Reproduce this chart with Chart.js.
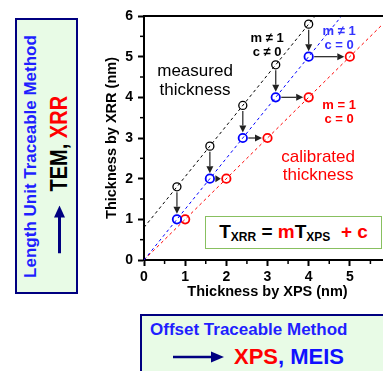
<!DOCTYPE html>
<html>
<head>
<meta charset="utf-8">
<script src="https://cdn.jsdelivr.net/npm/chart.js@4.4.0/dist/chart.umd.min.js"></script>
<style>
  html, body { margin: 0; padding: 0; background: #fff; overflow: hidden; }
  #wrap { position: relative; width: 383px; height: 371px; overflow: hidden;
          font-family: "Liberation Sans", Arial, sans-serif; }
  #chart { position: absolute; left: 0; top: 0; }
  .box { position: absolute; box-sizing: border-box; border: 2px solid #000080; background: #e8fbe6; }
  #leftBox { left: 15px; top: 18px; width: 63px; height: 276px; }
  #leftBox .rot { position: absolute; width: 272px; height: 59px; left: -106.5px; top: 106.5px;
                  transform: rotate(-90deg); }
  #bottomBox { left: 140px; top: 314px; width: 260px; height: 80px; }
  .l1 { position: absolute; font-weight: bold; font-size: 17px; line-height: 20px; color: #1f1fff; white-space: nowrap; }
  .l2 { position: absolute; font-weight: bold; line-height: 26px; white-space: nowrap; color: #000; }
  .red { color: #ff0000; }
  .blue { color: #1010ff; }
  svg { position: absolute; }
  #eq { position: absolute; left: 205px; top: 216px; width: 177px; height: 33px; box-sizing: border-box;
        border: 1.5px solid #88c060; background: #fff; font-weight: bold; font-size: 19px;
        text-align: center; line-height: 30px; color: #000; white-space: nowrap; }
  #eq sub { font-size: 12px; vertical-align: -3px; line-height: 0; }
</style>
</head>
<body>
<div id="wrap">
  <canvas id="chart" width="400" height="371"></canvas>

  <div id="eq">T<sub>XRR</sub> = <span class="red">m</span>T<sub>XPS</sub>&nbsp; <span class="red">+ c</span></div>

  <div class="box" id="leftBox">
    <div class="rot">
      <div class="l1" style="left:0; top:3px; width:272px; text-align:center;">Length Unit Traceable Method</div>
      <svg style="left:39px; top:36px;" width="48" height="12">
        <line x1="0" y1="6" x2="37" y2="6" stroke="#000080" stroke-width="3"/>
        <polygon points="36,0.5 48,6 36,11.5" fill="#000080"/>
      </svg>
      <div class="l2" style="left:101px; top:28px; font-size:23px; transform: scaleX(0.87); transform-origin: 0 50%;">TEM, <span class="red">XRR</span></div>
    </div>
  </div>

  <div class="box" id="bottomBox">
    <div class="l1" style="left:8px; top:4px;">Offset Traceable Method</div>
    <svg style="left:31px; top:35px;" width="51" height="12">
      <line x1="0" y1="6" x2="39" y2="6" stroke="#000080" stroke-width="2.5"/>
      <polygon points="38,0.5 51,6 38,11.5" fill="#000080"/>
    </svg>
    <div class="l2" style="left:92px; top:28px; font-size:22px;"><span class="red">XPS</span><span class="blue">, MEIS</span></div>
  </div>
</div>

<script>
const FONT = '"Liberation Sans", Arial, sans-serif';

// values
const xpsCalibrated = [1, 2, 3, 4, 5];            // red circles (m = 1, c = 0)
const xrrCalibrated = [1, 2, 3, 4, 5];
const xpsMeasured = [0.8, 1.6, 2.4, 3.2, 4.0];    // x of blue and black circles
const xrrScaled = [1, 2, 3, 4, 5];                // blue circles (m != 1, c = 0)
const xrrMeasured = [1.8, 2.8, 3.8, 4.8, 5.8];    // black circles (m != 1, c != 0)

// dashed fit lines, end points
const measuredFitX = [0, 4.16];
const measuredFitY = [0.8, 6];
const scaledFitX = [0, 4.8];
const scaledFitY = [0, 6];
const calibratedFitX = [0, 6];
const calibratedFitY = [0, 6];

const xTickLabels = [0, 1, 2, 3, 4, 5];
const yTickLabels = [0, 1, 2, 3, 4, 5, 6];

const toPoints = (xs, ys) => xs.map((v, i) => ({ x: v, y: ys[i] }));

// text notes inside the plot (anchor = centre x, baseline of first line, in data units)
const notes = [
  { x: 1.24, y: 4.52, lines: ['measured', 'thickness'], color: '#000', weight: 'normal', size: 17, gap: 19 },
  { x: 2.99, y: 5.36, lines: ['m \u2260 1', 'c \u2260 0'], color: '#000', weight: 'bold', size: 13, gap: 14 },
  { x: 4.74, y: 5.53, lines: ['m \u2260 1', 'c = 0'], color: '#3333ff', weight: 'bold', size: 13, gap: 14 },
  { x: 4.74, y: 3.71, lines: ['m = 1', 'c = 0'], color: '#ff0000', weight: 'bold', size: 13, gap: 14 },
  { x: 4.23, y: 2.41, lines: ['calibrated', 'thickness'], color: '#ff0000', weight: 'normal', size: 17, gap: 18 }
];

function drawArrow(ctx, x1, y1, x2, y2) {
  const len = Math.hypot(x2 - x1, y2 - y1);
  if (len < 4) return;
  const c = (x2 - x1) / len, s = (y2 - y1) / len;
  const head = Math.min(7, len), hw = 3.5;
  const bx = x2 - head * c, by = y2 - head * s;
  if (len > head) {
    ctx.beginPath(); ctx.moveTo(x1, y1); ctx.lineTo(bx, by); ctx.stroke();
  }
  ctx.beginPath();
  ctx.moveTo(x2, y2);
  ctx.lineTo(bx - hw * s, by + hw * c);
  ctx.lineTo(bx + hw * s, by - hw * c);
  ctx.closePath();
  ctx.fill();
}

const extras = {
  id: 'extras',
  afterDatasetsDraw(chart) {
    const { ctx, chartArea: a, scales: { x, y } } = chart;
    ctx.save();
    // top frame line
    ctx.strokeStyle = '#000';
    ctx.lineWidth = 2;
    ctx.beginPath(); ctx.moveTo(a.left - 1, a.top); ctx.lineTo(a.right, a.top); ctx.stroke();
    // minor ticks
    ctx.lineWidth = 1.5;
    for (let v = 0.5; v < 6; v += 1) {
      const px = x.getPixelForValue(v), py = y.getPixelForValue(v);
      ctx.beginPath(); ctx.moveTo(px, a.bottom); ctx.lineTo(px, a.bottom + 4); ctx.stroke();
      ctx.beginPath(); ctx.moveTo(a.left - 4, py); ctx.lineTo(a.left, py); ctx.stroke();
    }
    // arrows: measured -> scaled (down), scaled -> calibrated (right)
    const gap = 5.5;
    ctx.strokeStyle = '#333';
    ctx.fillStyle = '#222';
    ctx.lineWidth = 1.3;
    xpsMeasured.forEach((xv, i) => {
      const px = x.getPixelForValue(xv);
      const yb = y.getPixelForValue(xrrMeasured[i]);
      const ys = y.getPixelForValue(xrrScaled[i]);
      drawArrow(ctx, px, yb + gap, px, ys - gap);
      const pr = x.getPixelForValue(xpsCalibrated[i]);
      const yr = y.getPixelForValue(xrrCalibrated[i]);
      drawArrow(ctx, px + gap, ys, pr - gap, yr);
    });
    // notes
    ctx.textAlign = 'center';
    ctx.textBaseline = 'alphabetic';
    notes.forEach(n => {
      ctx.fillStyle = n.color;
      ctx.font = n.weight + ' ' + n.size + 'px ' + FONT;
      const px = x.getPixelForValue(n.x), py = y.getPixelForValue(n.y);
      n.lines.forEach((t, k) => ctx.fillText(t, px, py + k * n.gap));
    });
    ctx.restore();
  }
};

const tickFont = { family: FONT, size: 14, weight: 'bold' };
const titleFont = { family: FONT, size: 14.5, weight: 'bold' };
const majorColor = list => c => list.includes(c.tick && c.tick.value) ? '#000' : 'rgba(0,0,0,0)';

new Chart(document.getElementById('chart').getContext('2d'), {
  type: 'scatter',
  data: {
    datasets: [
      { data: toPoints(measuredFitX, measuredFitY), showLine: true, borderColor: '#000', borderWidth: 1,
        borderDash: [3, 3], pointRadius: 0 },
      { data: toPoints(scaledFitX, scaledFitY), showLine: true, borderColor: '#0000ff', borderWidth: 1,
        borderDash: [3, 3], pointRadius: 0 },
      { data: toPoints(calibratedFitX, calibratedFitY), showLine: true, borderColor: '#ff0000', borderWidth: 1,
        borderDash: [3, 3], pointRadius: 0 },
      { data: toPoints(xpsMeasured, xrrMeasured), pointRadius: 4, borderWidth: 1.3,
        borderColor: '#000', backgroundColor: 'rgba(0,0,0,0)' },
      { data: toPoints(xpsMeasured, xrrScaled), pointRadius: 4.2, borderWidth: 1.8,
        borderColor: '#0000ff', backgroundColor: 'rgba(0,0,0,0)' },
      { data: toPoints(xpsCalibrated, xrrCalibrated), pointRadius: 4.2, borderWidth: 1.8,
        borderColor: '#ff0000', backgroundColor: 'rgba(0,0,0,0)' }
    ]
  },
  options: {
    responsive: false,
    animation: false,
    events: [],
    layout: { padding: { left: 0, top: 16, right: 9, bottom: 0 } },
    plugins: { legend: { display: false }, tooltip: { enabled: false } },
    scales: {
      x: {
        type: 'linear', min: 0, max: 6,
        ticks: { stepSize: 0.5, autoSkip: false, maxRotation: 0, padding: 3, color: '#000', font: tickFont,
                 callback: v => xTickLabels.includes(v) ? v : '' },
        grid: { drawOnChartArea: false, drawTicks: true, tickLength: 6, tickWidth: 2,
                tickColor: majorColor(xTickLabels) },
        border: { color: '#000', width: 2 },
        title: { display: true, text: 'Thickness by XPS (nm)', color: '#000', font: titleFont,
                 padding: { top: 0, bottom: 70 } },
        afterFit: s => { s.height = 111; }
      },
      y: {
        type: 'linear', min: 0, max: 6,
        ticks: { stepSize: 0.5, autoSkip: false, padding: 5, color: '#000', font: tickFont,
                 callback: v => yTickLabels.includes(v) ? v : '' },
        grid: { drawOnChartArea: false, drawTicks: true, tickLength: 6, tickWidth: 2,
                tickColor: majorColor(yTickLabels) },
        border: { color: '#000', width: 2 },
        title: { display: true, text: 'Thickness by XRR (nm)', color: '#000', font: titleFont,
                 padding: { top: 103, bottom: 0 } },
        afterFit: s => { s.width = 144; }
      }
    }
  },
  plugins: [extras]
});
</script>
</body>
</html>
